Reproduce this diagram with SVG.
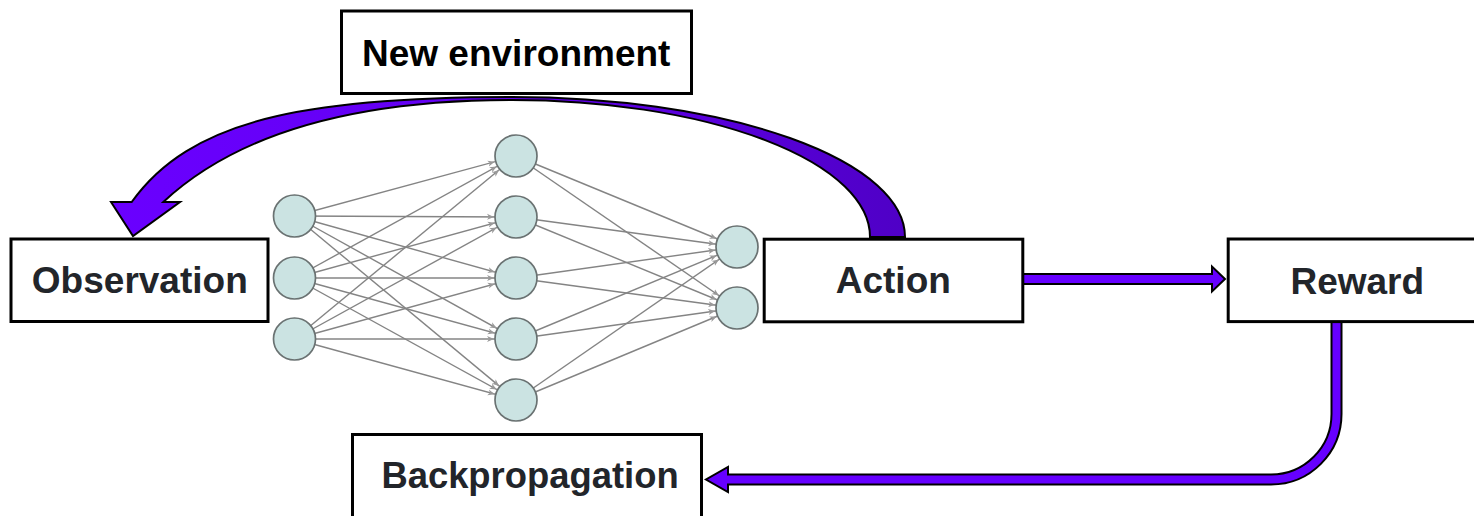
<svg xmlns="http://www.w3.org/2000/svg" width="1474" height="516" viewBox="0 0 1474 516">
<style>
.box{fill:#ffffff;stroke:#000000;stroke-width:3}
.lbl{font-family:"Liberation Sans",Arial,sans-serif;font-weight:bold;font-size:37px;fill:#22252a;text-anchor:middle}
.blk{fill:#000000}
.conn{stroke:#000000;stroke-width:2;stroke-linejoin:miter}
.edge{stroke:#848484;stroke-width:1.4;marker-end:url(#nnArrow)}
.neuron{fill:#cbe3e2;stroke:#6a7272;stroke-width:1.7}
</style>
<defs>
<linearGradient id="curveGrad" gradientUnits="userSpaceOnUse" x1="110" y1="0" x2="905" y2="0">
<stop offset="0" stop-color="#6a00ff"/>
<stop offset="0.5" stop-color="#6200f0"/>
<stop offset="1" stop-color="#4f00c6"/>
</linearGradient>
<marker id="nnArrow" markerUnits="userSpaceOnUse" markerWidth="30" markerHeight="8" refX="29" refY="4" orient="auto">
<path d="M0 1 L7 4 L0 7 L2 4 Z" fill="#999999"/>
</marker>
</defs>

<g id="connectors">
<path class="conn" fill="url(#curveGrad)" d="M111 202 L133 236 L180 202 L163.3 202 C236.6 133.7 352 100 512 100 A358 137 0 0 1 870 237 L905 237 A393 140 0 0 0 512 97 C302 97 189.7 120.7 131.7 202 Z"/>
<path class="conn" fill="#6600ff" d="M1023 274 L1212 274 L1212 266.5 L1225 279 L1212 291.5 L1212 284 L1023 284 Z"/>
<path class="conn" fill="#6600ff" d="M1331.5 322 L1331.5 414 A60.5 60.5 0 0 1 1271 474.5 L728 474.5 L728 467 L706 479.5 L728 492 L728 484.5 L1271 484.5 A70.5 70.5 0 0 0 1341.5 414 L1341.5 322 Z"/>
</g>

<g id="neural-network">
<g id="nn-edges">
<line class="edge" x1="294.5" y1="216" x2="516" y2="156"/>
<line class="edge" x1="294.5" y1="216" x2="516" y2="217"/>
<line class="edge" x1="294.5" y1="216" x2="516" y2="278"/>
<line class="edge" x1="294.5" y1="216" x2="516" y2="339"/>
<line class="edge" x1="294.5" y1="216" x2="516" y2="400"/>
<line class="edge" x1="294.5" y1="278" x2="516" y2="156"/>
<line class="edge" x1="294.5" y1="278" x2="516" y2="217"/>
<line class="edge" x1="294.5" y1="278" x2="516" y2="278"/>
<line class="edge" x1="294.5" y1="278" x2="516" y2="339"/>
<line class="edge" x1="294.5" y1="278" x2="516" y2="400"/>
<line class="edge" x1="294.5" y1="339" x2="516" y2="156"/>
<line class="edge" x1="294.5" y1="339" x2="516" y2="217"/>
<line class="edge" x1="294.5" y1="339" x2="516" y2="278"/>
<line class="edge" x1="294.5" y1="339" x2="516" y2="339"/>
<line class="edge" x1="294.5" y1="339" x2="516" y2="400"/>
<line class="edge" x1="516" y1="156" x2="737" y2="247"/>
<line class="edge" x1="516" y1="156" x2="737" y2="308"/>
<line class="edge" x1="516" y1="217" x2="737" y2="247"/>
<line class="edge" x1="516" y1="217" x2="737" y2="308"/>
<line class="edge" x1="516" y1="278" x2="737" y2="247"/>
<line class="edge" x1="516" y1="278" x2="737" y2="308"/>
<line class="edge" x1="516" y1="339" x2="737" y2="247"/>
<line class="edge" x1="516" y1="339" x2="737" y2="308"/>
<line class="edge" x1="516" y1="400" x2="737" y2="247"/>
<line class="edge" x1="516" y1="400" x2="737" y2="308"/>
</g>
<g id="nn-nodes">
<circle class="neuron" cx="294.5" cy="216" r="21"/>
<circle class="neuron" cx="294.5" cy="278" r="21"/>
<circle class="neuron" cx="294.5" cy="339" r="21"/>
<circle class="neuron" cx="516" cy="156" r="21"/>
<circle class="neuron" cx="516" cy="217" r="21"/>
<circle class="neuron" cx="516" cy="278" r="21"/>
<circle class="neuron" cx="516" cy="339" r="21"/>
<circle class="neuron" cx="516" cy="400" r="21"/>
<circle class="neuron" cx="737" cy="247" r="21"/>
<circle class="neuron" cx="737" cy="308" r="21"/>
</g>
</g>

<g id="new-environment">
<rect class="box" x="341.5" y="11" width="350" height="82.5"/>
<text class="lbl blk" x="516.2" y="65.5">New environment</text>
</g>
<g id="observation">
<rect class="box" x="11" y="239" width="257" height="82.5"/>
<text class="lbl" x="139.8" y="293.3">Observation</text>
</g>
<g id="action">
<rect class="box" x="764.2" y="239.2" width="258.6" height="82.6"/>
<text class="lbl" x="893.3" y="292.8">Action</text>
</g>
<g id="reward">
<rect class="box" x="1228.2" y="239" width="262" height="82.6"/>
<text class="lbl" x="1357.3" y="294">Reward</text>
</g>
<g id="backpropagation">
<rect class="box" x="352.5" y="434.5" width="349" height="90"/>
<text class="lbl" x="530" y="488.3" style="font-size:36.4px">Backpropagation</text>
</g>
</svg>
